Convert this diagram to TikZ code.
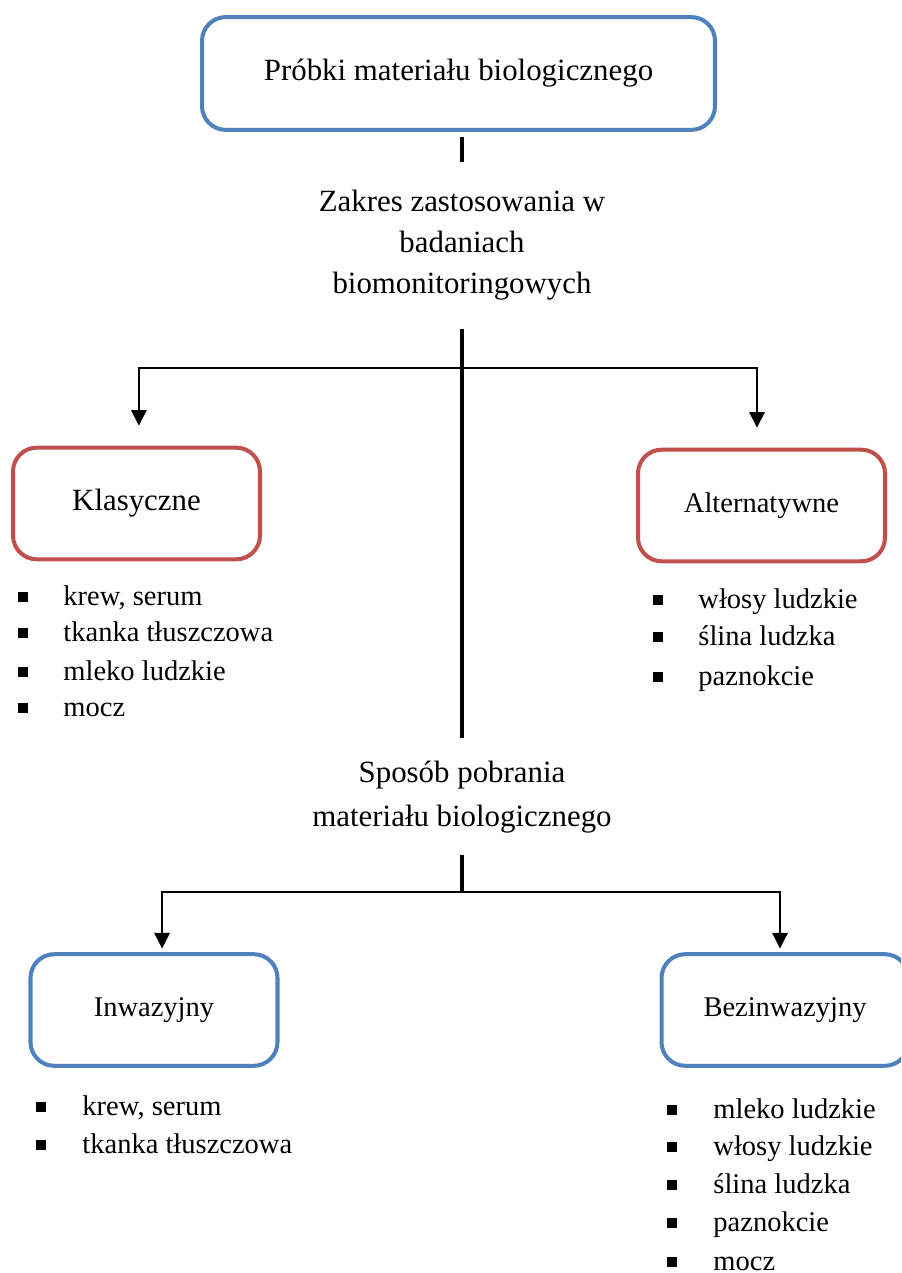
\documentclass[tikz,border=0pt]{standalone}
\usepackage{fontspec}
\setmainfont{Liberation Serif}
\usepackage{tikz}
\usetikzlibrary{arrows.meta,positioning}
\definecolor{bxb}{RGB}{79,129,189}
\definecolor{bxr}{RGB}{192,80,77}

\begin{document}
\begin{tikzpicture}[x=0.4211pt,y=-0.4211pt,>={Triangle[length=6.6pt,width=6.4pt]},
  txt/.style={font=\fontsize{12pt}{14pt}\selectfont,inner sep=0pt},
  box/.style={draw=#1,line width=1.7pt,rounded corners=10pt,minimum width=104pt,minimum height=47pt,inner sep=0pt,font=\fontsize{12pt}{14pt}\selectfont},
  itm/.style={txt,anchor=base west},
  sq/.style={fill=black,inner sep=0pt,minimum size=4pt}]
  \clip (0,0) rectangle (901,1273);
  \node[box=bxb,minimum width=216pt,minimum height=47.5pt,font=\fontsize{13pt}{15pt}\selectfont] (probki) at (458.5,73.5) {Próbki materiału biologicznego};
  \node[txt,align=center,font=\fontsize{13pt}{17.3pt}\selectfont] (zakres) at (462,245) {Zakres zastosowania w\\badaniach\\biomonitoringowych};
  \node[box=bxr,font=\fontsize{13pt}{15pt}\selectfont] (klas) at (136.5,503.5) {Klasyczne};
  \node[box=bxr] (alt) at (761.5,505.5) {Alternatywne};
  \node[txt,align=center,font=\fontsize{13pt}{18.5pt}\selectfont] (sposob) at (462,797) {Sposób pobrania\\materiału biologicznego};
  \node[box=bxb] (inw) at (154,1010) {Inwazyjny};
  \node[box=bxb] (bez) at (785,1010) {Bezinwazyjny};
  % lists under the boxes
  \foreach \t/\y [count=\i] in {{krew, serum}/605,{tkanka tłuszczowa}/641,{mleko ludzkie}/680,mocz/716} {
    \node[sq] (klb\i) at (23,\y-8) {}; \node[itm] (kl\i) at (63,\y) {\t}; }
  \foreach \t/\y [count=\i] in {{włosy ludzkie}/608,{ślina ludzka}/645,paznokcie/685} {
    \node[sq] (alb\i) at (658,\y-8) {}; \node[itm] (al\i) at (698,\y) {\t}; }
  \foreach \t/\y [count=\i] in {{krew, serum}/1115,{tkanka tłuszczowa}/1153} {
    \node[sq] (inb\i) at (41,\y-8) {}; \node[itm] (in\i) at (82,\y) {\t}; }
  \foreach \t/\y [count=\i] in {{mleko ludzkie}/1118,{włosy ludzkie}/1155,{ślina ludzka}/1193,paznokcie/1231,mocz/1270} {
    \node[sq] (bzb\i) at (672,\y-8) {}; \node[itm] (bz\i) at (713,\y) {\t}; }
  % connectors
  \coordinate (t1) at (462,137); \coordinate (t2) at (462,162);
  \coordinate (s1) at (462,329); \coordinate (h1) at (462,368); \coordinate (s2) at (462,738);
  \coordinate (s3) at (462,855); \coordinate (h2) at (462,892);
  \draw[line width=1.5pt] (t1) -- (t2);
  \draw[line width=1.5pt] (s1) -- (s2);
  \draw[line width=1.5pt] (s3) -- (h2);
  \draw[->,line width=0.9pt,shorten >=8.4pt] (h1) -| ([xshift=1pt]klas.north);
  \draw[->,line width=0.9pt,shorten >=8.4pt] (h1) -| ([xshift=-1.9pt]alt.north);
  \draw[->,line width=0.9pt,shorten >=1.5pt] (h2) -| ([xshift=3.4pt]inw.north);
  \draw[->,line width=0.9pt,shorten >=1.5pt] (h2) -| ([xshift=-2.1pt]bez.north);
\end{tikzpicture}
\end{document}
